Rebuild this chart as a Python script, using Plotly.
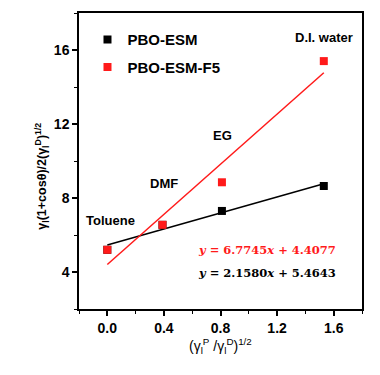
import plotly.graph_objects as go

x_vals = [0.0, 0.39, 0.81, 1.53]
esm_y = [5.2, 6.55, 7.3, 8.65]
f5_y = [5.2, 6.55, 8.85, 15.4]
solvents = ["Toluene", "DMF", "EG", "D.I. water"]
fit_f5 = (6.7745, 4.4077)
fit_esm = (2.1580, 5.4643)
x_ticks = [0.0, 0.4, 0.8, 1.2, 1.6]
y_ticks = [4, 8, 12, 16]

RED = "#ff1a1a"
font_main = "Liberation Sans, Arial, sans-serif"

fig = go.Figure()
x_line = [x_vals[0], x_vals[-1]]
fig.add_trace(go.Scatter(x=x_line, y=[fit_esm[0] * v + fit_esm[1] for v in x_line],
                         mode="lines", line=dict(color="black", width=1.5), showlegend=False))
fig.add_trace(go.Scatter(x=x_line, y=[fit_f5[0] * v + fit_f5[1] for v in x_line],
                         mode="lines", line=dict(color=RED, width=1.5), showlegend=False))
fig.add_trace(go.Scatter(x=x_vals, y=esm_y, mode="markers", name="PBO-ESM", legendgroup="a",
                         marker=dict(symbol="square", size=8, color="black")))
fig.add_trace(go.Scatter(x=x_vals, y=f5_y, mode="markers", name="PBO-ESM-F5", legendgroup="b",
                         marker=dict(symbol="square", size=8, color=RED)))

label_pos = [(0.02, 6.76), (0.4, 8.76), (0.815, 11.4), (1.53, 16.7)]
for s, (lx, ly) in zip(solvents, label_pos):
    fig.add_annotation(x=lx, y=ly, text=f"<b>{s}</b>", showarrow=False,
                       font=dict(family=font_main, size=13, color="black"))

fig.add_annotation(x=0.63, y=5.18, xanchor="left",
                   text=f"<b><i>y</i> = {fit_f5[0]:.4f}<i>x</i> + {fit_f5[1]:.4f}</b>",
                   showarrow=False, font=dict(family="DejaVu Serif", size=11.5, color=RED))
fig.add_annotation(x=0.63, y=3.95, xanchor="left",
                   text=f"<b><i>y</i> = {fit_esm[0]:.4f}<i>x</i> + {fit_esm[1]:.4f}</b>",
                   showarrow=False, font=dict(family="DejaVu Serif", size=11.5, color="black"))

# axis titles placed as annotations to match the reference positions
fig.add_annotation(xref="paper", yref="paper", x=-0.17, y=0.45, textangle=-90,
                   text="<b>γ<sub>l</sub>(1+cosθ)/2(γ<sub>l</sub><sup>D</sup>)<sup>1/2</sup></b>",
                   showarrow=False, font=dict(family=font_main, size=12.5, color="black"))
fig.add_annotation(xref="paper", yref="paper", x=0.5, y=-0.125, yanchor="middle",
                   text="(γ<sub>l</sub><sup>P</sup> /γ<sub>l</sub><sup>D</sup>)<sup>1/2</sup>",
                   showarrow=False, font=dict(family=font_main, size=14, color="black"))

axis_common = dict(showline=True, linecolor="black", linewidth=1.5, mirror=True,
                   ticks="outside", tickwidth=1.5, ticklen=5, tickcolor="black",
                   showgrid=False, zeroline=False, automargin=False,
                   tickfont=dict(family=font_main, size=14, color="black"))

fig.update_xaxes(range=[-0.2, 1.8], tickvals=x_ticks,
                 ticktext=[f"<b>{t:.1f}</b>" for t in x_ticks],
                 minor=dict(ticks="outside", dtick=0.2, ticklen=3, tickwidth=1.2, tickcolor="black"),
                 **axis_common)
fig.update_yaxes(range=[2, 18], tickvals=y_ticks,
                 ticktext=[f"<b>{t}</b>" for t in y_ticks],
                 minor=dict(ticks="outside", dtick=2, ticklen=3, tickwidth=1.2, tickcolor="black"),
                 **axis_common)

fig.update_layout(width=372, height=367, margin=dict(l=71, r=18, t=5, b=66),
                  plot_bgcolor="white", paper_bgcolor="white",
                  legend=dict(x=0.03, y=0.965, xanchor="left", yanchor="top",
                              bgcolor="rgba(0,0,0,0)", tracegroupgap=5,
                              font=dict(family=font_main, size=15, color="black", weight="bold")))

fig.write_html("out.html")
